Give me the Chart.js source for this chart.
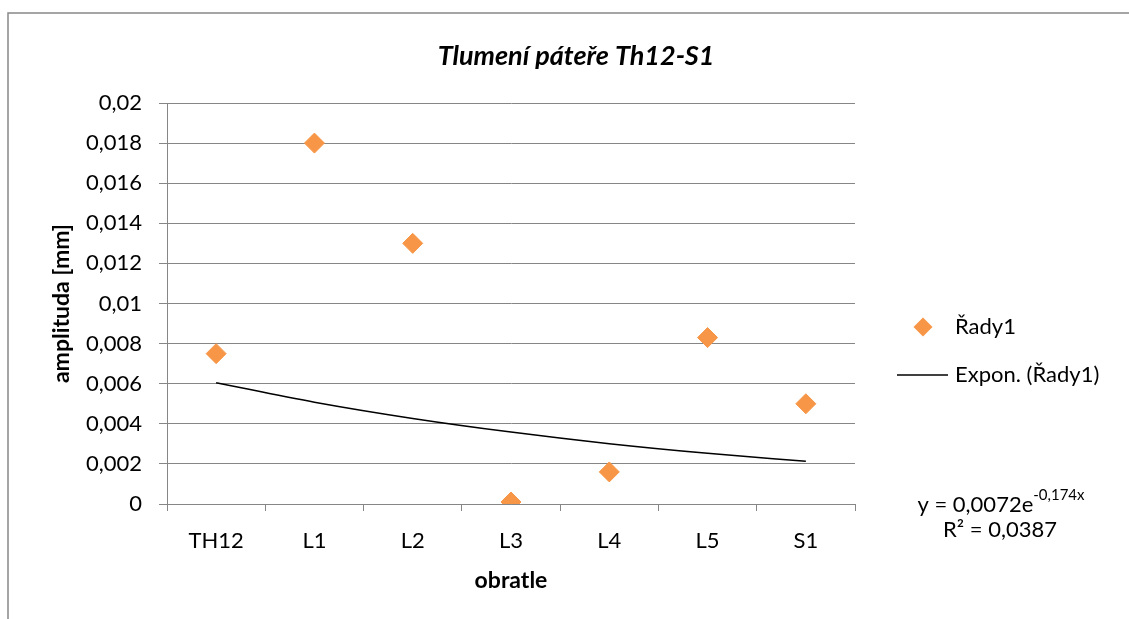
<!DOCTYPE html>
<html>
<head>
<meta charset="utf-8">
<script src="https://cdn.jsdelivr.net/npm/chart.js@4"></script>
<style>
html,body{margin:0;padding:0;background:#fff;}
#wrap{width:1129px;height:619px;position:relative;}
</style>
</head>
<body>
<div id="wrap"><canvas id="c" width="1129" height="619"></canvas></div>
<script>
const categories = ['TH12', 'L1', 'L2', 'L3', 'L4', 'L5', 'S1'];
const seriesValues = [0.0075, 0.018, 0.013, 0.0001, 0.0016, 0.0083, 0.005];
const trendValues = [0.00605, 0.00508, 0.00427, 0.00359, 0.00301, 0.00253, 0.00213];
const yTickLabels = ['0', '0,002', '0,004', '0,006', '0,008', '0,01', '0,012', '0,014', '0,016', '0,018', '0,02'];
const seriesName = 'Řady1';
const trendName = 'Expon. (Řady1)';
const titleText = 'Tlumení páteře Th12-S1';
const yTitle = 'amplituda [mm]';
const xTitle = 'obratle';
const eqMain = 'y = 0,0072e';
const eqSup = '-0,174x';
const r2Text = 'R² = 0,0387';

const FONT = 'Lato, "Open Sans", sans-serif';
const ORANGE = '#F79646';
const GRID = '#868686';

const decor = {
  id: 'decor',
  beforeDraw(chart) {
    const ctx = chart.ctx;
    ctx.save();
    ctx.fillStyle = '#fff';
    ctx.fillRect(0, 0, chart.width, chart.height);
    ctx.strokeStyle = '#888888';
    ctx.lineWidth = 1.5;
    ctx.strokeRect(8, 13, 1200, 700);
    ctx.restore();
  },
  afterDraw(chart) {
    const ctx = chart.ctx;
    ctx.save();
    ctx.fillStyle = '#000';
    // title
    ctx.font = 'italic bold 27px ' + FONT;
    ctx.textAlign = 'center';
    ctx.textBaseline = 'middle';
    ctx.fillText(titleText, 576, 56);
    // legend
    ctx.font = '22px ' + FONT;
    ctx.textAlign = 'left';
    const cx = 923, cy = 327, r = 9.5;
    ctx.fillStyle = ORANGE;
    ctx.beginPath();
    ctx.moveTo(cx - r, cy); ctx.lineTo(cx, cy - r); ctx.lineTo(cx + r, cy); ctx.lineTo(cx, cy + r);
    ctx.closePath(); ctx.fill();
    ctx.fillStyle = '#000';
    ctx.fillText(seriesName, 955, cy);
    ctx.strokeStyle = '#000';
    ctx.lineWidth = 1.5;
    ctx.beginPath(); ctx.moveTo(897, 375); ctx.lineTo(948, 375); ctx.stroke();
    ctx.fillText(trendName, 955, 375);
    // equation
    ctx.font = '22px ' + FONT;
    const w1 = ctx.measureText(eqMain).width;
    ctx.font = '15px ' + FONT;
    const w2 = ctx.measureText(eqSup).width;
    const total = w1 + w2;
    const sx = 1001 - total / 2;
    ctx.font = '22px ' + FONT;
    ctx.fillText(eqMain, sx, 505);
    ctx.font = '15px ' + FONT;
    ctx.fillText(eqSup, sx + w1, 495);
    ctx.font = '22px ' + FONT;
    ctx.textAlign = 'center';
    ctx.fillText(r2Text, 1000, 530);
    ctx.restore();
  }
};

new Chart(document.getElementById('c'), {
  type: 'line',
  data: {
    labels: categories,
    datasets: [
      {
        label: trendName,
        data: trendValues,
        borderColor: '#000',
        borderWidth: 1.5,
        pointRadius: 0,
        fill: false,
        cubicInterpolationMode: 'monotone',
        order: 2
      },
      {
        label: seriesName,
        data: seriesValues,
        showLine: false,
        pointStyle: 'rectRot',
        pointRadius: 10,
        pointHoverRadius: 10,
        pointBackgroundColor: ORANGE,
        pointBorderColor: ORANGE,
        pointBorderWidth: 1,
        order: 1
      }
    ]
  },
  options: {
    responsive: false,
    animation: false,
    events: [],
    layout: { padding: { left: 0, top: 103, right: 274, bottom: 0 } },
    plugins: { legend: { display: false }, title: { display: false }, tooltip: { enabled: false } },
    scales: {
      x: {
        type: 'category',
        offset: true,
        grid: { offset: true, drawOnChartArea: false, drawTicks: true, tickLength: 7, color: GRID, lineWidth: 1 },
        border: { display: true, color: GRID, width: 1 },
        ticks: { color: '#000', font: { family: FONT, size: 22 }, padding: 17, maxRotation: 0 },
        title: { display: true, text: xTitle, color: '#000', font: { family: FONT, size: 23, weight: 'bold', lineHeight: 1.2 }, padding: { top: 0, bottom: 25 } },
        afterFit(scale) { scale.height = 115; }
      },
      y: {
        min: 0,
        max: 0.02,
        ticks: {
          stepSize: 0.002,
          color: '#000',
          font: { family: FONT, size: 22 },
          padding: 17,
          callback: (v, i) => yTickLabels[i]
        },
        grid: { color: GRID, lineWidth: 1, drawTicks: true, tickLength: 8 },
        border: { display: true, color: GRID, width: 1 },
        title: { display: true, text: yTitle, color: '#000', font: { family: FONT, size: 23, weight: 'bold', lineHeight: 1.2 }, padding: { top: 48, bottom: 0 } },
        afterFit(scale) { scale.width = 167; }
      }
    }
  },
  plugins: [decor]
});
</script>
</body>
</html>
